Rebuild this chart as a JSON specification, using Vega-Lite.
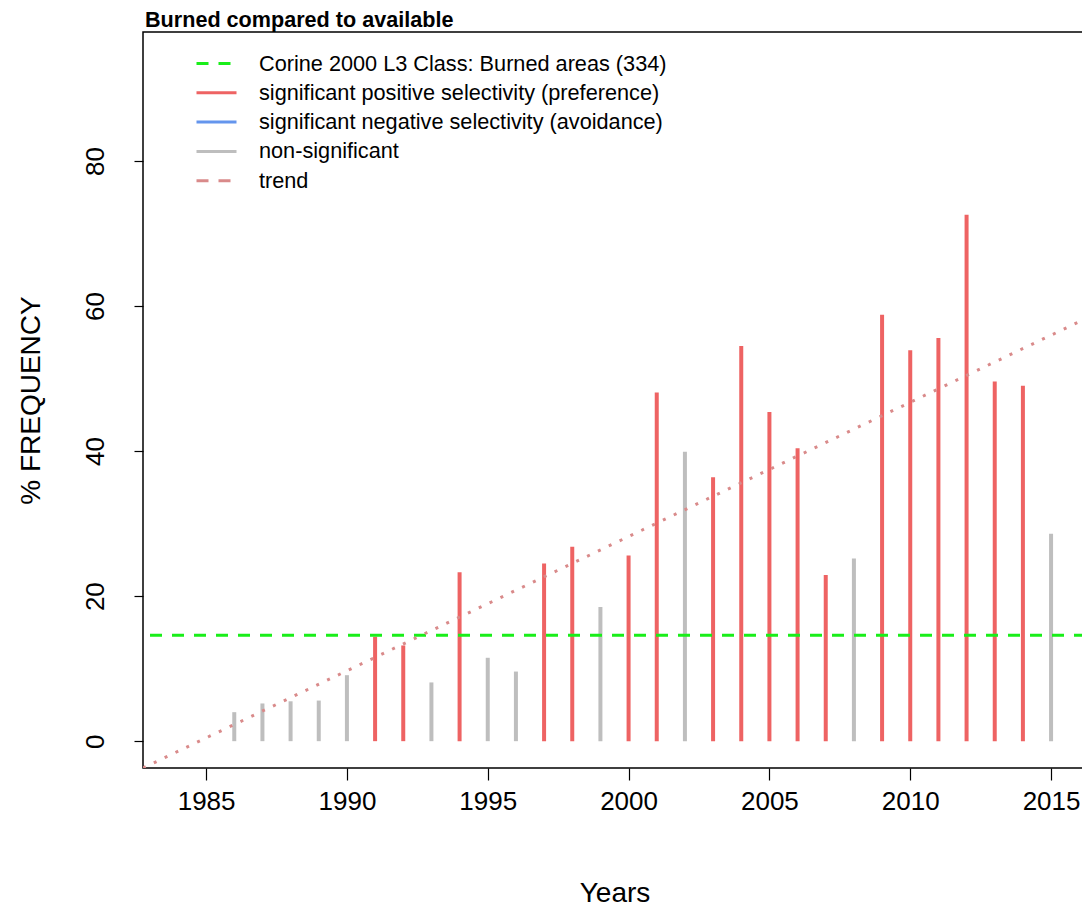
{
  "$schema": "https://vega.github.io/schema/vega-lite/v6.json",
  "autosize": {"type": "none"},
  "width": 943,
  "height": 736,
  "padding": {"left": 143, "top": 32, "right": 0, "bottom": 141},
  "background": "white",
  "config": {
    "view": {"stroke": "black", "strokeWidth": 1.5},
    "font": "Liberation Sans"
  },
  "title": {
    "text": "Burned compared to available",
    "anchor": "start",
    "frame": "group",
    "fontSize": 21.6,
    "fontWeight": "bold",
    "font": "Liberation Sans",
    "color": "black",
    "baseline": "alphabetic",
    "offset": 6,
    "dx": 2,
    "dy": 23
  },
  "datasets": {
    "bars": [
      {"year": 1986, "freq": 4.0, "series": "non-significant"},
      {"year": 1987, "freq": 5.2, "series": "non-significant"},
      {"year": 1988, "freq": 5.5, "series": "non-significant"},
      {"year": 1989, "freq": 5.6, "series": "non-significant"},
      {"year": 1990, "freq": 9.1, "series": "non-significant"},
      {"year": 1991, "freq": 14.4, "series": "significant positive selectivity (preference)"},
      {"year": 1992, "freq": 13.2, "series": "significant positive selectivity (preference)"},
      {"year": 1993, "freq": 8.1, "series": "non-significant"},
      {"year": 1994, "freq": 23.3, "series": "significant positive selectivity (preference)"},
      {"year": 1995, "freq": 11.5, "series": "non-significant"},
      {"year": 1996, "freq": 9.6, "series": "non-significant"},
      {"year": 1997, "freq": 24.5, "series": "significant positive selectivity (preference)"},
      {"year": 1998, "freq": 26.8, "series": "significant positive selectivity (preference)"},
      {"year": 1999, "freq": 18.5, "series": "non-significant"},
      {"year": 2000, "freq": 25.6, "series": "significant positive selectivity (preference)"},
      {"year": 2001, "freq": 48.1, "series": "significant positive selectivity (preference)"},
      {"year": 2002, "freq": 39.9, "series": "non-significant"},
      {"year": 2003, "freq": 36.4, "series": "significant positive selectivity (preference)"},
      {"year": 2004, "freq": 54.5, "series": "significant positive selectivity (preference)"},
      {"year": 2005, "freq": 45.4, "series": "significant positive selectivity (preference)"},
      {"year": 2006, "freq": 40.4, "series": "significant positive selectivity (preference)"},
      {"year": 2007, "freq": 22.9, "series": "significant positive selectivity (preference)"},
      {"year": 2008, "freq": 25.2, "series": "non-significant"},
      {"year": 2009, "freq": 58.8, "series": "significant positive selectivity (preference)"},
      {"year": 2010, "freq": 53.9, "series": "significant positive selectivity (preference)"},
      {"year": 2011, "freq": 55.6, "series": "significant positive selectivity (preference)"},
      {"year": 2012, "freq": 72.6, "series": "significant positive selectivity (preference)"},
      {"year": 2013, "freq": 49.6, "series": "significant positive selectivity (preference)"},
      {"year": 2014, "freq": 49.0, "series": "significant positive selectivity (preference)"},
      {"year": 2015, "freq": 28.6, "series": "non-significant"}
    ],
    "reference": [
      {"freq": 14.6, "series": "Corine 2000 L3 Class: Burned areas (334)"}
    ],
    "trend": [
      {"year": 1982.76, "freq": -3.7, "series": "trend"},
      {"year": 2016.3, "freq": 58.4, "series": "trend"}
    ]
  },
  "encoding": {},
  "layer": [
    {
      "data": {"name": "bars"},
      "mark": {"type": "rule", "strokeWidth": 4, "strokeCap": "butt"},
      "encoding": {
        "x": {
          "field": "year", "type": "quantitative",
          "scale": {"domain": [1982.76, 2016.24], "nice": false, "zero": false},
          "axis": {
            "values": [1985, 1990, 1995, 2000, 2005, 2010, 2015],
            "format": "d",
            "title": "Years",
            "grid": false,
            "domain": false,
            "ticks": true,
            "tickSize": 12,
            "tickColor": "black",
            "tickWidth": 1.2,
            "labelFontSize": 26,
            "labelColor": "black",
            "labelPadding": 8,
            "labelFont": "Liberation Sans",
            "titleFontSize": 28,
            "titleFontWeight": "normal",
            "titleColor": "black",
            "titleFont": "Liberation Sans",
            "titleBaseline": "middle",
            "titleAnchor": "middle",
            "titleY": 125
          }
        },
        "y": {
          "field": "freq", "type": "quantitative",
          "scale": {"domain": [-3.7, 97.8], "nice": false, "zero": false},
          "axis": {
            "values": [0, 20, 40, 60, 80],
            "title": "% FREQUENCY",
            "grid": false,
            "domain": false,
            "tickSize": 9,
            "tickColor": "black",
            "tickWidth": 1.2,
            "labelAngle": -90,
            "labelAlign": "center",
            "labelBaseline": "bottom",
            "labelFontSize": 26,
            "labelColor": "black",
            "labelPadding": 26,
            "labelFont": "Liberation Sans",
            "titleFontSize": 28,
            "titleFontWeight": "normal",
            "titleColor": "black",
            "titleFont": "Liberation Sans",
            "titleAngle": -90,
            "titleBaseline": "middle",
            "titleX": -112,
            "titleY": 368,
            "titleAnchor": "middle"
          }
        },
        "y2": {"datum": 0},
        "color": {
          "field": "series", "type": "nominal",
          "scale": {
            "domain": [
              "Corine 2000 L3 Class: Burned areas (334)",
              "significant positive selectivity (preference)",
              "significant negative selectivity (avoidance)",
              "non-significant",
              "trend"
            ],
            "range": ["#19EE19", "#EE6363", "#6495ED", "#BEBEBE", "#D98A8A"]
          },
          "legend": {
            "title": null,
            "orient": "none",
            "legendX": 62,
            "legendY": 20,
            "padding": 0,
            "symbolType": "M-2,0H2",
            "symbolSize": 400,
            "symbolStrokeWidth": 3,
            "labelFontSize": 21.7,
            "labelFont": "Liberation Sans",
            "labelColor": "black",
            "labelOffset": 31,
            "rowPadding": 5.3,
            "labelLimit": 0,
            "encode": {
              "symbols": {
                "update": {
                  "strokeDash": {"signal": "(datum.value == 'trend' || datum.value == 'Corine 2000 L3 Class: Burned areas (334)') ? [12, 10] : null"}
                }
              }
            }
          }
        }
      }
    },
    {
      "data": {"name": "reference"},
      "mark": {"type": "rule", "strokeWidth": 3, "strokeDash": [12, 10], "color": "#19EE19"},
      "encoding": {
        "y": {"field": "freq", "type": "quantitative"}
      }
    },
    {
      "data": {"name": "trend"},
      "mark": {"type": "line", "strokeWidth": 3, "strokeDash": [3, 9], "clip": true, "color": "#D98A8A"},
      "encoding": {
        "x": {"field": "year", "type": "quantitative"},
        "y": {"field": "freq", "type": "quantitative"}
      }
    },
    {
      "mark": {"type": "rule", "color": "black", "strokeWidth": 1.5},
      "encoding": {"y": {"datum": 0}}
    }
  ]
}
